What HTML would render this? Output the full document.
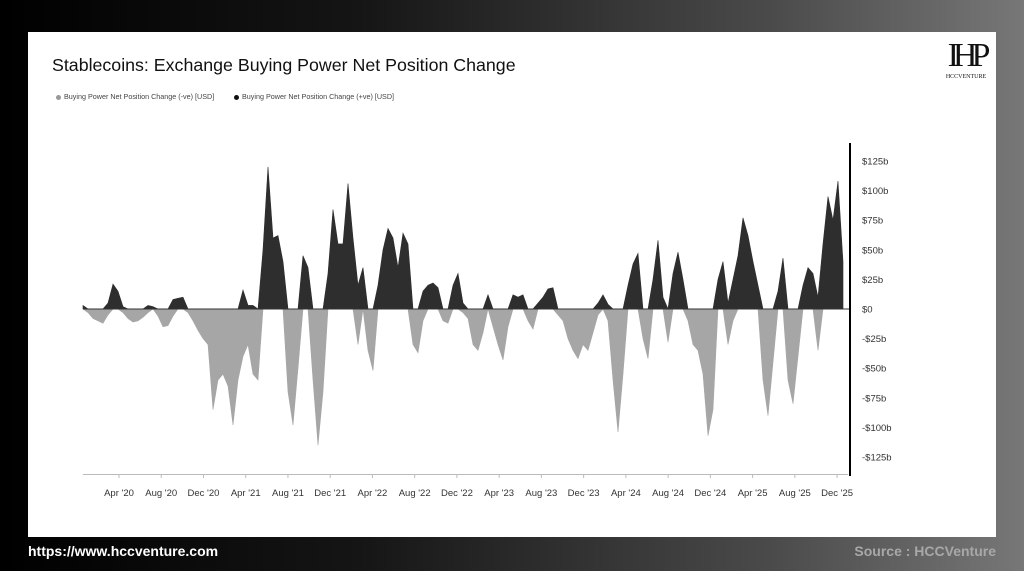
<!DOCTYPE html>
<html><head><meta charset="utf-8">
<style>
html,body{margin:0;padding:0;}
body{width:1024px;height:571px;overflow:hidden;position:relative;background:linear-gradient(90deg,#000 0%,#151515 35%,#4a4a4a 75%,#777 100%);font-family:"Liberation Sans",sans-serif;}
#card{position:absolute;left:28px;top:32px;width:968px;height:505px;background:#fff;}
#title{position:absolute;left:24px;top:23px;font-size:17.8px;color:#111;}
.leg{position:absolute;top:60px;font-size:7.2px;color:#444;}
.dot{display:inline-block;width:5px;height:5px;border-radius:50%;margin-right:3px;vertical-align:middle;}
#foot-l{position:absolute;left:28px;top:543px;font-size:14px;font-weight:bold;color:#fff;}
#foot-r{position:absolute;right:28px;top:543px;font-size:14px;font-weight:bold;color:#a8a8a8;}
svg{position:absolute;left:0;top:0;}
</style></head>
<body>
<div id="card">
  <div id="title">Stablecoins: Exchange Buying Power Net Position Change</div>
  <div class="leg" style="left:28px"><span class="dot" style="background:#999"></span>Buying Power Net Position Change (-ve) [USD]</div>
  <div class="leg" style="left:206px"><span class="dot" style="background:#111"></span>Buying Power Net Position Change (+ve) [USD]</div>
  <div style="position:absolute;left:912px;top:6px;width:52px;text-align:center;">
    <div style="font-family:'Liberation Serif',serif;font-size:34px;line-height:36px;color:#111;letter-spacing:-6px;">IHP</div>
    <div style="font-family:'Liberation Serif',serif;font-size:6px;color:#111;">HCCVENTURE</div>
  </div>
</div>
<svg id="chart" width="1024" height="571"></svg>
<div id="foot-l">https://www.hccventure.com</div>
<div id="foot-r">Source : HCCVenture</div>
<script>
const posValues=[3,0,0,0,0,5,21,15,2,0,0,0,0,3,2,0,0,0,8,9,10,0,0,0,0,0,0,0,0,0,0,0,16,3,3,0,50,120,60,62,40,0,0,0,45,35,0,0,0,30,84,55,55,106,60,20,35,0,0,20,50,68,60,35,64,55,0,0,15,20,22,18,0,0,20,30,5,0,0,0,0,12,0,0,0,0,12,10,12,0,0,5,10,17,18,0,0,0,0,0,0,0,0,5,12,4,0,0,0,20,38,47,0,0,25,58,10,0,30,48,25,0,0,0,0,0,0,25,40,5,25,45,77,62,40,20,0,0,0,15,43,0,0,0,20,35,30,10,55,95,75,108,40];
const negValues=[0,-3,-8,-10,-12,-5,0,0,-3,-8,-11,-10,-7,-3,0,-6,-15,-14,-6,0,0,-3,-10,-18,-25,-30,-85,-60,-55,-65,-98,-60,-40,-30,-55,-60,0,0,0,0,0,-70,-98,-50,0,0,-60,-115,-70,0,0,0,0,0,0,-30,0,-35,-52,0,0,0,0,0,0,0,-30,-37,-10,0,0,0,-10,-12,0,0,-3,-8,-30,-35,-20,0,-15,-30,-43,-15,0,0,0,-10,-17,0,0,0,0,-5,-10,-25,-35,-42,-30,-35,-20,-5,0,-10,-60,-104,-55,0,0,0,-25,-42,0,0,0,-28,0,0,0,-10,-30,-35,-55,-107,-85,0,0,-30,-10,0,0,0,0,0,-60,-90,-45,0,0,-60,-80,-40,0,0,0,-35,0,0,0,0,0];
const yTicks=[125,100,75,50,25,0,-25,-50,-75,-100,-125];
const yTickLabels=["$125b","$100b","$75b","$50b","$25b","$0","-$25b","-$50b","-$75b","-$100b","-$125b"];
const xTickLabels=["Apr '20","Aug '20","Dec '20","Apr '21","Aug '21","Dec '21","Apr '22","Aug '22","Dec '22","Apr '23","Aug '23","Dec '23","Apr '24","Aug '24","Dec '24","Apr '25","Aug '25","Dec '25"];
const xTickMonths=[0,4,8,12,16,20,24,28,32,36,40,44,48,52,56,60,64,68]; // months since Apr 2020
const startMonth=-3.41, stepMonths=0.4735; // sampling of series (~2 weeks)

const NS="http://www.w3.org/2000/svg";
const svg=document.getElementById('chart');
const xScale=m=>119+m*10.56;
const yScale=v=>309-v*1.184;
const xOf=i=>xScale(startMonth+i*stepMonths);
function mk(tag,attrs){const e=document.createElementNS(NS,tag);for(const k in attrs)e.setAttribute(k,attrs[k]);svg.appendChild(e);return e;}

const bl=mk('line',{x1:83,x2:848,y1:474.5,y2:474.5,stroke:'#bbb','stroke-width':1});



function area(vals,fill,name){
  let d=`M${xOf(0)},${yScale(0)}`;
  vals.forEach((v,i)=>{d+=` L${xOf(i).toFixed(1)},${yScale(v).toFixed(1)}`;});
  d+=` L${xOf(vals.length-1)},${yScale(0)} Z`;
  const p=mk('path',{d:d,fill:fill,stroke:fill,'stroke-width':0.6});
  
  
}
area(negValues,'#a6a6a6','negative-area');
area(posValues,'#2e2e2e','positive-area');

const zl=mk('line',{x1:83,x2:850,y1:yScale(0),y2:yScale(0),stroke:'#333','stroke-width':1});



const ax=mk('line',{x1:850,x2:850,y1:143,y2:476,stroke:'#000','stroke-width':2});



yTicks.forEach((v,i)=>{
  const t=mk('text',{x:862,y:yScale(v)+3.5,'font-size':9.5,fill:'#333','font-family':'Liberation Sans, sans-serif'});
  t.textContent=yTickLabels[i];
  
  
});
xTickMonths.forEach((m,i)=>{
  const x=xScale(m);
  const tk=mk('line',{x1:x,x2:x,y1:474,y2:478,stroke:'#bbb','stroke-width':1});
  
  
  const t=mk('text',{x:x,y:496,'font-size':9.5,fill:'#333','text-anchor':'middle','font-family':'Liberation Sans, sans-serif'});
  t.textContent=xTickLabels[i];
  
  
});
</script>
</body></html>
